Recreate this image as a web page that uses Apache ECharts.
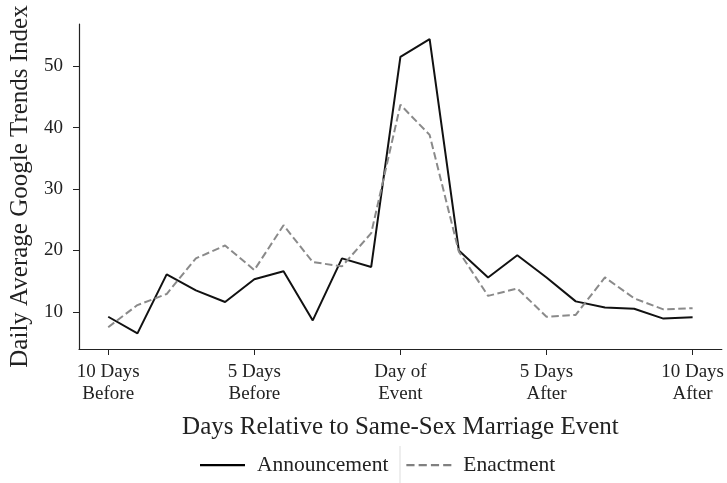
<!DOCTYPE html>
<html><head><meta charset="utf-8">
<script src="https://cdn.jsdelivr.net/npm/echarts@6/dist/echarts.min.js"></script>
<style>html,body{margin:0;padding:0;background:#fff}#c{width:727px;height:483px}</style>
</head><body><div id="c"></div>
<script>
const days = [-10,-9,-8,-7,-6,-5,-4,-3,-2,-1,0,1,2,3,4,5,6,7,8,9,10];
const announcement = [9.2,6.5,16.1,13.5,11.6,15.3,16.6,8.6,18.7,17.3,51.5,54.4,20.0,15.6,19.2,15.6,11.7,10.7,10.5,8.9,9.1];
const enactment = [7.5,11.1,12.9,18.7,20.8,16.8,24.1,18.1,17.4,22.8,43.7,38.8,19.8,12.6,13.8,9.2,9.5,15.6,12.2,10.4,10.6];
const xTicks = [-10,-5,0,5,10];
const xTickLabels = ['10 Days\nBefore','5 Days\nBefore','Day of\nEvent','5 Days\nAfter','10 Days\nAfter'];
const yTicks = [10,20,30,40,50];
const seriesNames = ['Announcement','Enactment'];

const FONT = 'Liberation Serif';
const chart = echarts.init(document.getElementById('c'), null, {renderer:'canvas'});
const pair = arr => days.map((d,i)=>[d, arr[i]]);
const solidIcon = 'path://M0,0H44V2.2H0Z';
const dashIcon = 'path://M0,0H8V2.2H0Z M12,0H20V2.2H12Z M24,0H32V2.2H24Z M36,0H44V2.2H36Z';
chart.setOption({
  animation:false,
  backgroundColor:'#fff',
  textStyle:{fontFamily:FONT},
  grid:{left:79, right:5, top:24, bottom:134, containLabel:false},
  legend:{
    top:449, left:195,
    itemWidth:45, itemHeight:4, itemGap:18,
    textStyle:{fontFamily:FONT, fontSize:21.5, color:'#222', padding:[0,0,0,7], lineHeight:22},
    data:[{name:seriesNames[0], icon:solidIcon, itemStyle:{color:'#000'}},
          {name:seriesNames[1], icon:dashIcon, itemStyle:{color:'#808080'}}]
  },
  graphic:[{type:'line', shape:{x1:400,y1:446,x2:400,y2:483}, style:{stroke:'#e8e8e8', lineWidth:1.5}}],
  xAxis:{
    type:'value', min:-11, max:11,
    name:'Days Relative to Same-Sex Marriage Event', nameLocation:'middle', nameGap:66,
    nameTextStyle:{fontFamily:FONT, fontSize:25, color:'#222'},
    axisLine:{show:true, onZero:false, lineStyle:{color:'#222', width:1.2}},
    axisTick:{show:true, length:6, lineStyle:{color:'#222'}, customValues:xTicks},
    axisLabel:{fontFamily:FONT, fontSize:19, color:'#222', lineHeight:22, margin:12,
      customValues:xTicks,
      formatter:v=>{const i=xTicks.indexOf(v); return i>=0?xTickLabels[i]:'';}},
    splitLine:{show:false}
  },
  yAxis:{
    type:'value', min:3.95, max:56.85,
    name:'Daily Average Google Trends Index', nameLocation:'middle', nameGap:41,
    nameTextStyle:{fontFamily:FONT, fontSize:25, color:'#222'},
    axisLine:{show:true, onZero:false, lineStyle:{color:'#222', width:1.2}},
    axisTick:{show:true, length:6, lineStyle:{color:'#222'}, customValues:yTicks},
    axisLabel:{fontFamily:FONT, fontSize:19, color:'#222', margin:16, customValues:yTicks},
    splitLine:{show:false}
  },
  series:[
    {name:seriesNames[0], type:'line', data:pair(announcement), showSymbol:false, symbol:'none',
     lineStyle:{color:'#111', width:2}, itemStyle:{color:'#111'}},
    {name:seriesNames[1], type:'line', data:pair(enactment), showSymbol:false, symbol:'none',
     lineStyle:{color:'#8a8a8a', width:2, type:[7.5,3.5]}, itemStyle:{color:'#8a8a8a'}}
  ]
});
</script></body></html>
